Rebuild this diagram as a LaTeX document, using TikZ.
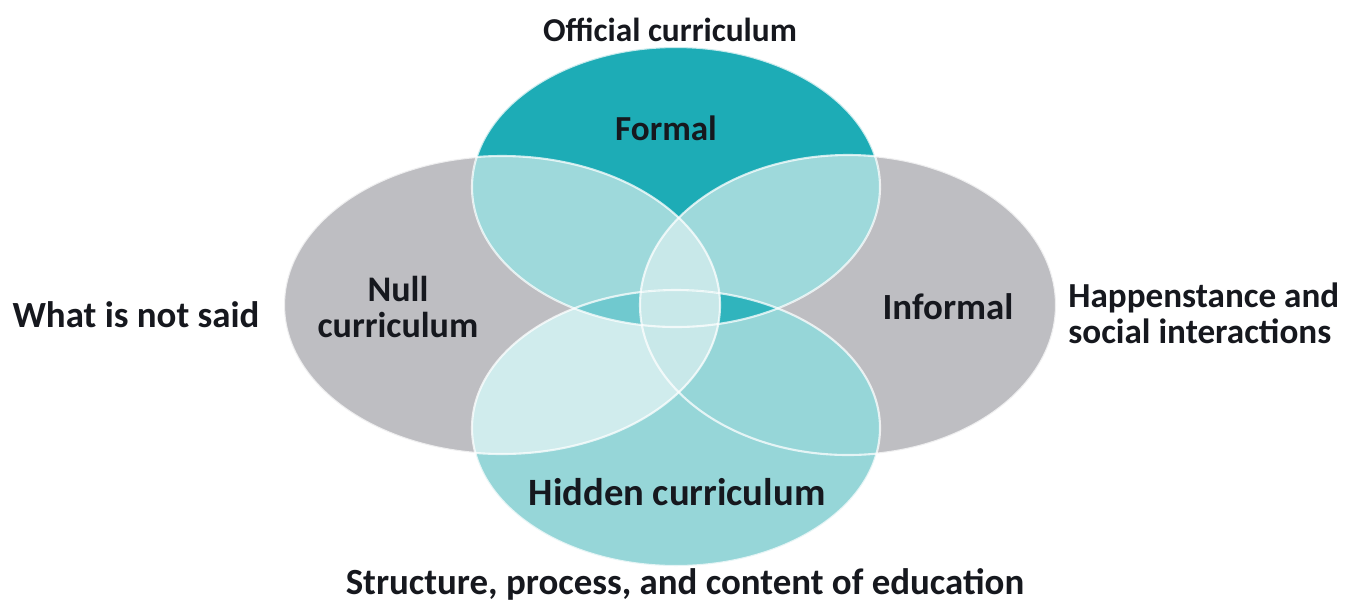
\documentclass[tikz,border=0pt]{standalone}
\usepackage{fontspec}
\setmainfont{Carlito}

% colours of the regions
\definecolor{formalteal}{RGB}{29,172,182}
\definecolor{sidegray}{RGB}{190,190,194}
\definecolor{hiddenteal}{RGB}{150,214,216}
\definecolor{pairteal}{RGB}{158,217,219}
\definecolor{midteal}{RGB}{200,232,233}
\definecolor{paleteal}{RGB}{208,236,237}
\definecolor{deepsliver}{RGB}{48,180,189}
\definecolor{softsliver}{RGB}{112,201,207}
\definecolor{inkdark}{RGB}{22,24,30}

% the four ellipses (pixel units, y downwards)
\def\formalEll{(676,187) ellipse [x radius=204, y radius=140]}
\def\hiddenEll{(676,428) ellipse [x radius=204, y radius=138]}
\def\nullEll{(502,305) ellipse [x radius=218, y radius=149]}
\def\informalEll{(848,305) ellipse [x radius=208, y radius=150]}

\tikzset{
  lbl/.style={font=\bfseries\fontsize{#1}{20.5}\selectfont, text=inkdark, inner sep=0pt},
  lbl/.default=19,
  rim/.style={draw=white, draw opacity=0.75, line width=1.2pt}
}

\begin{document}
\begin{tikzpicture}[x=0.02cm, y=-0.02cm]

    \useasboundingbox (0,0) rectangle (1351,603);

    % Base fills
    \fill[sidegray] \nullEll;
    \fill[sidegray] \informalEll;
    \fill[formalteal] \formalEll;
    \fill[hiddenteal] \hiddenEll;

    % Formal with null / informal
    \begin{scope}
        \clip \formalEll;
        \fill[pairteal] \nullEll;
        \fill[pairteal] \informalEll;
    \end{scope}
    \begin{scope}
        \clip \formalEll;
        \clip \nullEll;
        \fill[midteal] \informalEll;
    \end{scope}

    % Hidden with null
    \begin{scope}
        \clip \hiddenEll;
        \fill[paleteal] \nullEll;
    \end{scope}

    % Slivers where formal and hidden meet
    \begin{scope}
        \clip \hiddenEll;
        \clip \formalEll;
        \fill[deepsliver] \informalEll;
        \fill[softsliver] \nullEll;
    \end{scope}
    \begin{scope}
        \clip \hiddenEll;
        \clip \nullEll;
        \fill[midteal] \informalEll;
    \end{scope}

    % White rims
    \foreach \ell in {\nullEll, \informalEll, \formalEll, \hiddenEll} {
        \draw[rim] \ell;
    }

    % Labels inside
    \node[lbl=20] (formal) at (666,128) {Formal};
    \node[lbl=20.5, align=center] (null) at (398,307) {Null\\curriculum};
    \node[lbl=21] (informal) at (948,307) {Informal};
    \node[lbl=22] (hidden) at (677,492) {Hidden curriculum};

    % Labels outside
    \node[lbl] (official) at (670,30) {Official curriculum};
    \node[lbl=21] (notsaid) at (136,315) {What is not said};
    \node[lbl=20, align=left, anchor=west] (happen) at (1068,313) {Happenstance and\\social interactions};
    \node[lbl=21] (structure) at (685,584) {Structure, process, and content of education};

\end{tikzpicture}
\end{document}
